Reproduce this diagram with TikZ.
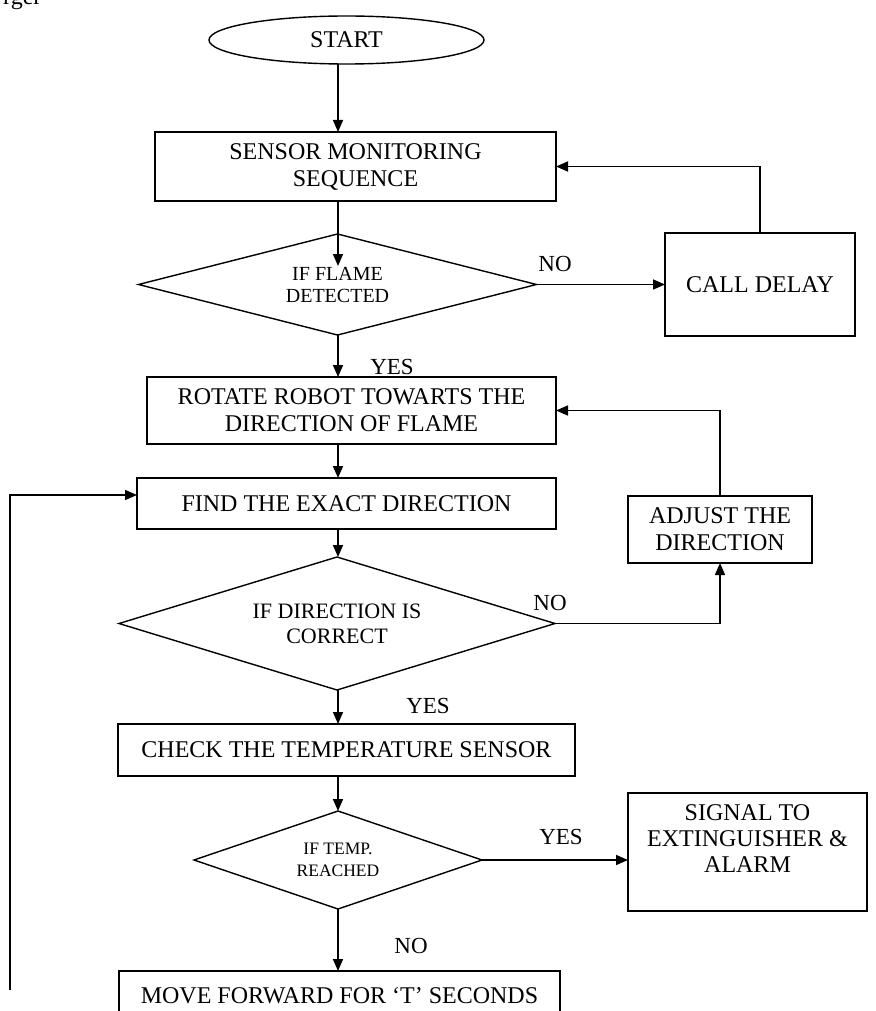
\documentclass[tikz,border=0pt]{standalone}
\usepackage{fontspec}
\setmainfont{Liberation Serif}
\usetikzlibrary{shapes.geometric}
\usetikzlibrary{arrows.meta}

\tikzset{
  box/.style={shape=rectangle,draw,line width=1.4pt,inner sep=0pt,outer sep=0pt,align=center,font=\fontsize{24}{27}\selectfont},
  decision/.style={shape=diamond,draw,line width=1.4pt,inner sep=0pt,outer sep=0pt,aspect=3.5,align=center},
  lbl/.style={inner sep=0pt,font=\fontsize{23}{27}\selectfont},
  flow/.style={->,line width=1.6pt},
  >={Triangle[length=12pt,width=10pt]}
}

\begin{document}
\begin{tikzpicture}[x=1pt,y=-1pt]
    \useasboundingbox (0,0) rectangle (875,1011);
    \node (cut) at (3,5) [anchor=base west,inner sep=0pt,font=\fontsize{24}{27}\selectfont] {rger};
    % main column
    \node (start) at (346.5,40) [box,shape=ellipse,minimum width=275,minimum height=48] {START};
    \node (sensor) at (355.5,166.5) [box,minimum width=401,minimum height=69] {SENSOR MONITORING\\SEQUENCE};
    \node (flame) at (337.5,284.5) [decision,minimum width=398,minimum height=101,font=\fontsize{20}{22}\selectfont] {IF FLAME\\DETECTED};
    \node (rotate) at (351.5,410.5) [box,minimum width=409,minimum height=67] {ROTATE ROBOT TOWARTS THE\\DIRECTION OF FLAME};
    \node (find) at (346.5,503.5) [box,minimum width=419,minimum height=51] {FIND THE EXACT DIRECTION};
    \node (dir) at (337,623.5) [decision,minimum width=436,minimum height=133,font=\fontsize{22}{25}\selectfont] {IF DIRECTION IS\\CORRECT};
    \node (check) at (346.5,750) [box,minimum width=457,minimum height=52] {CHECK THE TEMPERATURE SENSOR};
    \node (temp) at (338,860) [decision,minimum width=288,minimum height=98,font=\fontsize{17.5}{22}\selectfont] {IF TEMP.\\REACHED};
    \node (move) at (339.5,996) [box,minimum width=441,minimum height=50] {MOVE FORWARD FOR `T' SECONDS};
    % side boxes
    \node (delay) at (760,284.5) [box,minimum width=190,minimum height=103] {CALL DELAY};
    \node (adjust) at (720,529.5) [box,minimum width=184,minimum height=67] {ADJUST THE\\DIRECTION};
    \node (signal) at (747.5,852) [box,minimum width=239,minimum height=118] {};
    \node (signaltext) at (747.5,839) [align=center,inner sep=0pt,font=\fontsize{24}{26}\selectfont] {SIGNAL TO\\EXTINGUISHER \&\\ALARM};

    \coordinate (col) at (338,0);
    \coordinate (flametip) at (338,266);
    \coordinate (back) at (10,990);

    \draw[flow] (start.south -| col) -- (sensor.north -| col);
    \draw[flow] (sensor.south -| col) -- (flametip);
    \draw[flow] (flame.south -| col) -- (rotate.north -| col);
    \draw[flow] (rotate.south -| col) -- (find.north -| col);
    \draw[flow] (find.south -| col) -- (dir.north -| col);
    \draw[flow] (dir.south -| col) -- (check.north -| col);
    \draw[flow] (check.south -| col) -- (temp.north);
    \draw[flow] (temp.south) -- (move.north -| temp.south);
    \draw[flow] (flame.east) -- (delay.west);
    \draw[flow] (delay.north) |- (sensor.east);
    \draw[flow] (dir.east) -| (adjust.south);
    \draw[flow] (adjust.north) |- (rotate.east);
    \draw[flow] (temp.east) -- (temp.east -| signal.west);
    \draw[flow] (back) |- (find.west |- 0,495);

    % branch labels
    \node (noflame) at (555,264) [lbl] {NO};
    \node (yesflame) at (392,367) [lbl] {YES};
    \node (nodir) at (550,603) [lbl] {NO};
    \node (yesdir) at (428,706) [lbl] {YES};
    \node (yestemp) at (561,837) [lbl] {YES};
    \node (notemp) at (411,946) [lbl] {NO};
\end{tikzpicture}
\end{document}
